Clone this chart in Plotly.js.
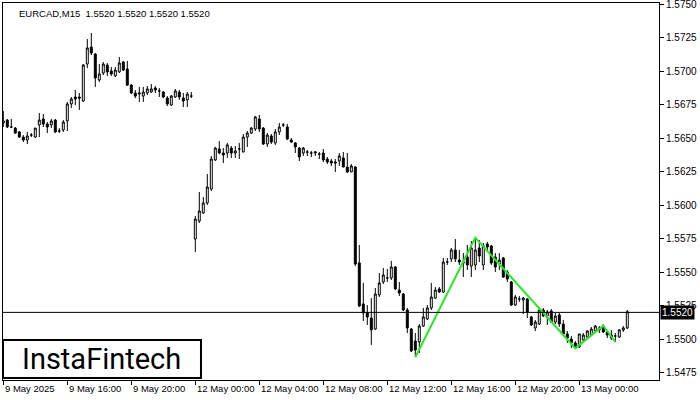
<!DOCTYPE html>
<html><head><meta charset="utf-8">
<script src="https://cdn.plot.ly/plotly-3.0.1.min.js"></script>
<style>html,body{margin:0;padding:0;background:#fff}#chart{width:700px;height:400px}</style>
</head><body><div id="chart"></div>
<script>
// trading sessions: [date, first hour, number of 15-minute bars]
const sessions = [["2025-05-09", 12, 48], ["2025-05-12", 0, 96], ["2025-05-13", 0, 13]];
const times = [];
for (const [d, h0, n] of sessions) {
  for (let k = 0; k < n; k++) {
    const m = h0 * 60 + 15 * k;
    times.push(d + ' ' + String(Math.floor(m / 60)).padStart(2, '0') + ':' + String(m % 60).padStart(2, '0'));
  }
}

const open = [
1.56614,1.56636,1.56584,1.56576,1.56547,1.56509,1.56487,1.56524,1.56509,1.56599,
1.56644,1.56606,1.56599,1.56636,1.56554,1.56562,1.56629,1.56756,1.56808,1.56808,
1.56778,1.57054,1.57181,1.57129,1.56935,1.56987,1.57047,1.57002,1.56965,1.56995,
1.57069,1.57017,1.56897,1.56838,1.56830,1.56815,1.56838,1.56845,1.56875,1.56853,
1.56845,1.56800,1.56748,1.56808,1.56845,1.56800,1.56786,1.56815,
1.55748,1.55882,1.55942,1.56017,1.56121,1.56338,1.56420,1.56390,1.56390,1.56427,
1.56390,1.56420,1.56397,1.56509,1.56539,1.56569,1.56644,1.56576,1.56457,1.56517,
1.56465,1.56547,1.56599,1.56584,1.56487,1.56465,1.56427,1.56390,1.56397,1.56390,
1.56390,1.56382,1.56390,1.56345,1.56330,1.56323,1.56330,1.56353,1.56285,1.56248,
1.56285,1.55569,1.55263,1.55196,1.55158,1.55076,1.55330,1.55427,1.55457,1.55457,
1.55539,1.55367,1.55337,1.55218,1.55076,1.54986,1.54979,1.55098,1.55151,1.55233,
1.55307,1.55375,1.55352,1.55576,1.55599,1.55666,1.55591,1.55576,1.55614,1.55546,
1.55554,1.55681,1.55554,1.55711,1.55696,1.55614,1.55561,1.55606,1.55502,1.55427,
1.55255,1.55300,1.55293,1.55300,1.55166,1.55084,1.55113,1.55218,1.55173,1.55210,
1.55128,1.55181,1.55113,1.55039,1.55001,1.54972,1.54942,1.54994,1.55016,1.55031,
1.55061,1.55069,1.55091,1.55054,1.55031,1.55024,1.55016,1.55069,1.55084];

const high = [
1.56703,1.56644,1.56644,1.56584,1.56554,1.56524,1.56547,1.56539,1.56576,1.56688,
1.56681,1.56621,1.56644,1.56644,1.56576,1.56636,1.56771,1.56808,1.56860,1.56838,
1.57054,1.57241,1.57286,1.57136,1.57054,1.57069,1.57062,1.57032,1.57032,1.57107,
1.57077,1.57077,1.56905,1.56860,1.56883,1.56883,1.56890,1.56905,1.56890,1.56875,
1.56853,1.56815,1.56823,1.56868,1.56860,1.56838,1.56845,1.56845,
1.55920,1.56099,1.56061,1.56233,1.56368,1.56435,1.56479,1.56427,1.56465,1.56442,
1.56442,1.56465,1.56532,1.56554,1.56584,1.56666,1.56674,1.56584,1.56539,1.56532,
1.56569,1.56614,1.56614,1.56606,1.56502,1.56472,1.56435,1.56435,1.56412,1.56405,
1.56405,1.56397,1.56420,1.56360,1.56345,1.56345,1.56390,1.56397,1.56390,1.56308,
1.56293,1.55703,1.55420,1.55255,1.55307,1.55382,1.55494,1.55531,1.55524,1.55584,
1.55546,1.55427,1.55345,1.55233,1.55084,1.55046,1.55113,1.55233,1.55255,1.55420,
1.55389,1.55389,1.55606,1.55606,1.55681,1.55748,1.55666,1.55643,1.55703,1.55733,
1.55755,1.55740,1.55718,1.55726,1.55703,1.55643,1.55643,1.55614,1.55516,1.55434,
1.55330,1.55322,1.55315,1.55307,1.55173,1.55143,1.55225,1.55233,1.55218,1.55225,
1.55196,1.55196,1.55143,1.55061,1.55024,1.54986,1.55039,1.55046,1.55069,1.55091,
1.55106,1.55098,1.55113,1.55069,1.55069,1.55046,1.55076,1.55098,1.55218];

const low = [
1.56584,1.56576,1.56576,1.56532,1.56502,1.56472,1.56457,1.56509,1.56502,1.56509,
1.56584,1.56539,1.56576,1.56539,1.56539,1.56547,1.56554,1.56726,1.56748,1.56711,
1.56771,1.57024,1.57121,1.56883,1.56920,1.56972,1.56965,1.56965,1.56957,1.56987,
1.57002,1.56890,1.56830,1.56800,1.56771,1.56771,1.56823,1.56838,1.56838,1.56808,
1.56800,1.56741,1.56741,1.56800,1.56786,1.56733,1.56733,1.56800,
1.55651,1.55867,1.55935,1.56002,1.56106,1.56330,1.56382,1.56315,1.56353,1.56353,
1.56353,1.56345,1.56397,1.56435,1.56532,1.56554,1.56547,1.56450,1.56435,1.56457,
1.56450,1.56524,1.56584,1.56487,1.56465,1.56390,1.56330,1.56368,1.56368,1.56360,
1.56368,1.56345,1.56323,1.56308,1.56293,1.56248,1.56293,1.56285,1.56241,1.56248,
1.55546,1.55240,1.55136,1.55106,1.54957,1.55069,1.55315,1.55412,1.55427,1.55442,
1.55367,1.55322,1.55210,1.55046,1.54904,1.54875,1.54897,1.55091,1.55143,1.55218,
1.55300,1.55345,1.55345,1.55554,1.55576,1.55576,1.55554,1.55464,1.55516,1.55464,
1.55516,1.55576,1.55516,1.55651,1.55554,1.55502,1.55516,1.55457,1.55427,1.55248,
1.55248,1.55278,1.55188,1.55158,1.55098,1.55061,1.55106,1.55166,1.55106,1.55121,
1.55113,1.55091,1.55031,1.54972,1.54934,1.54927,1.54934,1.54979,1.55009,1.55024,
1.55054,1.55046,1.55046,1.55009,1.54994,1.54979,1.55009,1.55054,1.55076];

const close = [
1.56629,1.56584,1.56584,1.56539,1.56509,1.56487,1.56517,1.56524,1.56576,1.56636,
1.56606,1.56584,1.56629,1.56547,1.56554,1.56621,1.56756,1.56793,1.56793,1.56800,
1.57047,1.57174,1.57136,1.56950,1.56980,1.57054,1.56995,1.56980,1.57009,1.57062,
1.57009,1.56897,1.56838,1.56815,1.56838,1.56845,1.56868,1.56868,1.56860,1.56853,
1.56808,1.56756,1.56815,1.56853,1.56808,1.56778,1.56830,1.56815,
1.55897,1.55957,1.56017,1.56136,1.56345,1.56427,1.56390,1.56375,1.56450,1.56390,
1.56405,1.56420,1.56509,1.56539,1.56576,1.56659,1.56569,1.56457,1.56524,1.56472,
1.56547,1.56584,1.56599,1.56494,1.56472,1.56435,1.56360,1.56427,1.56397,1.56390,
1.56397,1.56382,1.56338,1.56323,1.56315,1.56315,1.56368,1.56285,1.56248,1.56293,
1.55561,1.55248,1.55196,1.55166,1.55069,1.55337,1.55420,1.55479,1.55457,1.55539,
1.55375,1.55345,1.55218,1.55084,1.54912,1.54919,1.55098,1.55166,1.55233,1.55315,
1.55367,1.55352,1.55576,1.55576,1.55666,1.55599,1.55576,1.55569,1.55554,1.55681,
1.55666,1.55621,1.55696,1.55688,1.55569,1.55539,1.55591,1.55464,1.55449,1.55255,
1.55315,1.55300,1.55307,1.55203,1.55106,1.55128,1.55218,1.55173,1.55203,1.55128,
1.55173,1.55113,1.55039,1.55009,1.54972,1.54942,1.55039,1.55031,1.55061,1.55076,
1.55098,1.55084,1.55054,1.55031,1.55009,1.55024,1.55069,1.55084,1.55205];

// pattern (green) pivot points
const patternTimes = ["2025-05-12 13:45", "2025-05-12 17:30", "2025-05-12 23:45", "2025-05-13 01:30", "2025-05-13 02:15"];
const patternPrices = [1.54865, 1.55758, 1.54932, 1.55101, 1.54979];

const lastPrice = 1.5520;
const headerText = "EURCAD,M15  1.5520 1.5520 1.5520 1.5520";

const tickTimes = ["2025-05-09 12:00", "2025-05-09 16:00", "2025-05-09 20:00", "2025-05-12 00:00", "2025-05-12 04:00",
                   "2025-05-12 08:00", "2025-05-12 12:00", "2025-05-12 16:00", "2025-05-12 20:00", "2025-05-13 00:00"];
const tickLabels = ["9 May 2025", "9 May 16:00", "9 May 20:00", "12 May 00:00", "12 May 04:00",
                    "12 May 08:00", "12 May 12:00", "12 May 16:00", "12 May 20:00", "13 May 00:00"];
const priceTicks = [1.5475, 1.5500, 1.5525, 1.5550, 1.5575, 1.5600, 1.5625, 1.5650, 1.5675, 1.5700, 1.5725, 1.5750];

const FONT = "Liberation Sans, Arial, sans-serif";

const traces = [
  {
    type: 'candlestick', x: times, open: open, high: high, low: low, close: close,
    increasing: {line: {color: '#000', width: 1}, fillcolor: '#fff'},
    decreasing: {line: {color: '#000', width: 1}, fillcolor: '#000'},
    whiskerwidth: 0, hoverinfo: 'skip', showlegend: false
  },
  {
    type: 'scatter', mode: 'lines', x: patternTimes, y: patternPrices,
    line: {color: 'rgb(40,232,40)', width: 2}, hoverinfo: 'skip', showlegend: false
  }
];

const annotations = tickTimes.map((t, k) => ({
  x: t, xref: 'x', y: 0, yref: 'paper', yanchor: 'top', xanchor: 'left', yshift: -1, xshift: 0,
  text: tickLabels[k], showarrow: false, font: {family: FONT, size: 9.5, color: '#000'}
}));
annotations.push({
  x: 1, xref: 'paper', y: lastPrice, yref: 'y', xanchor: 'left', yanchor: 'middle', xshift: 1,
  text: lastPrice.toFixed(4), showarrow: false, bgcolor: '#000', borderpad: 1,
  font: {family: FONT, size: 10, color: '#fff'}
});
annotations.push({
  x: 0, xref: 'paper', y: 1, yref: 'paper', xanchor: 'left', yanchor: 'top', xshift: 14, yshift: -3,
  text: headerText, showarrow: false, font: {family: FONT, size: 9.5, color: '#000'}
});
annotations.push({
  x: 0.1502, xref: 'paper', y: 0.056, yref: 'paper', xanchor: 'center', yanchor: 'middle',
  text: 'InstaFintech', showarrow: false, font: {family: 'Roboto, sans-serif', size: 29, color: '#000'}
});

const layout = {
  width: 700, height: 400,
  margin: {l: 3, r: 41, t: 3, b: 20, pad: 0},
  paper_bgcolor: '#fff', plot_bgcolor: '#fff',
  showlegend: false,
  xaxis: {
    type: 'category', range: [-0.075, 163.925], rangeslider: {visible: false},
    showgrid: false, zeroline: false, showline: true, mirror: true, linecolor: '#000', linewidth: 1,
    tickmode: 'array', tickvals: tickTimes, ticktext: tickLabels, showticklabels: false,
    ticks: 'outside', ticklen: 4, tickcolor: '#000', tickwidth: 1, fixedrange: true
  },
  yaxis: {
    side: 'right', range: [1.546953, 1.575097],
    showgrid: false, zeroline: false, showline: true, mirror: true, linecolor: '#000', linewidth: 1,
    tickmode: 'array', tickvals: priceTicks, ticktext: priceTicks.map(v => v.toFixed(4)),
    ticks: 'outside', ticklen: 4, tickcolor: '#000', tickwidth: 1, ticklabeloverflow: 'allow',
    tickfont: {family: FONT, size: 10, color: '#000'}, fixedrange: true
  },
  shapes: [
    {type: 'line', xref: 'paper', x0: 0, x1: 1, yref: 'y', y0: lastPrice, y1: lastPrice,
     line: {color: '#000', width: 1}},
    {type: 'rect', xref: 'paper', yref: 'paper', x0: 0, x1: 0.3018, y0: 0.0053, y1: 0.1061,
     fillcolor: '#fff', line: {color: '#000', width: 2}}
  ],
  annotations: annotations
};

Plotly.newPlot('chart', traces, layout, {displayModeBar: false, staticPlot: true});
</script>
</body></html>
